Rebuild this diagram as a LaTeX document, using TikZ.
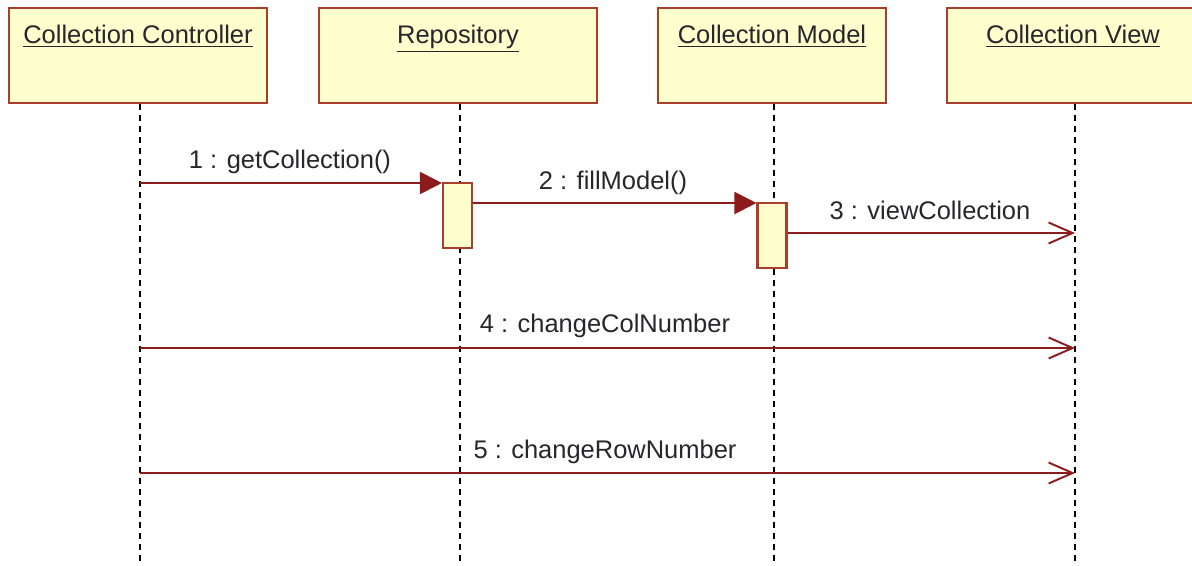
\documentclass[tikz,border=0pt]{standalone}
\usepackage{fontspec}
\setmainfont{Liberation Sans}
\usetikzlibrary{positioning}
\usetikzlibrary{arrows.meta}
\usetikzlibrary{calc}

\definecolor{umlred}{RGB}{140,28,28}
\definecolor{umlfill}{RGB}{255,255,206}
\definecolor{umlborder}{RGB}{170,62,44}
\definecolor{umltext}{RGB}{38,38,44}

\tikzset{
  object/.style={draw=umlborder, fill=umlfill, line width=1.2pt, minimum height=1.9cm, inner sep=0pt},
  objname/.style={font=\fontsize{14.5}{17}\selectfont, text=umltext, anchor=base, inner sep=0pt},
  lifeline/.style={draw=black, line width=0.8pt, dash pattern=on 0.12cm off 0.1cm},
  activation/.style={draw=umlborder, fill=umlfill, line width=1.2pt, minimum width=0.58cm, minimum height=1.3cm, inner sep=0pt},
  call/.style={draw=umlred, line width=1.1pt, -{Triangle[length=0.44cm, width=0.44cm]}},
  signal/.style={draw=umlred, line width=1.1pt, -{Straight Barb[length=0.48cm, width=0.42cm]}},
  msg/.style={font=\fontsize{14.5}{17}\selectfont, text=umltext, inner sep=0pt}
}

\begin{document}
\begin{tikzpicture}[x=0.02cm, y=-0.02cm]
  \useasboundingbox (0,0) rectangle (1192,565);

  % objects
  \node[object, minimum width=5.16cm] (ctrl) at (138,55.5) {};
  \node[object, minimum width=5.56cm] (repo) at (458,55.5) {};
  \node[object, minimum width=4.56cm] (model) at (772,55.5) {};
  \node[object, minimum width=5.2cm] (view) at (1077,55.5) {};

  \node[objname] (ctrlname) at ($(ctrl.north)+(0,37)$) {\underline{Collection Controller}};
  \node[objname] (reponame) at ($(repo.north)+(0,37)$) {\underline{Repository}};
  \node[objname] (modelname) at ($(model.north)+(0,37)$) {\underline{Collection Model}};
  \node[objname] (viewname) at ($(view.north)+(-4,37)$) {\underline{Collection View}};

  % lifelines
  \coordinate (ctrlend) at (140,565);
  \coordinate (repoend) at (460,565);
  \coordinate (modelend) at (774,565);
  \coordinate (viewend) at (1075,565);
  \draw[lifeline] (ctrlend |- ctrl.south) -- (ctrlend);
  \draw[lifeline] (repoend |- repo.south) -- (repoend);
  \draw[lifeline] (modelend |- model.south) -- (modelend);
  \draw[lifeline] (viewend |- view.south) -- (viewend);

  % activations
  \node[activation] (repoact) at (457.5,215.5) {};
  \node[activation] (modelact) at (772,235.5) {};

  % messages
  \coordinate (c1) at (ctrlend |- 0,183);
  \draw[call] (c1) -- (c1 -| repoact.west);
  \node[msg] (l1) at (290,162) {1 : getCollection()};

  \coordinate (c2) at (repoact.east |- 0,203);
  \draw[call] (c2) -- (c2 -| modelact.west);
  \node[msg] (l2) at (613,183) {2 : fillModel()};

  \coordinate (c3) at (modelact.east |- 0,233);
  \coordinate (v3) at (viewend |- 0,233);
  \draw[signal] (c3) -- (v3);
  \node[msg] (l3) at (930,210) {3 : viewCollection};

  \coordinate (c4) at (ctrlend |- 0,348);
  \coordinate (v4) at (viewend |- 0,348);
  \draw[signal] (c4) -- (v4);
  \node[msg] (l4) at (605,326) {4 : changeColNumber};

  \coordinate (c5) at (ctrlend |- 0,473);
  \coordinate (v5) at (viewend |- 0,473);
  \draw[signal] (c5) -- (v5);
  \node[msg] (l5) at (605,452) {5 : changeRowNumber};
\end{tikzpicture}
\end{document}
